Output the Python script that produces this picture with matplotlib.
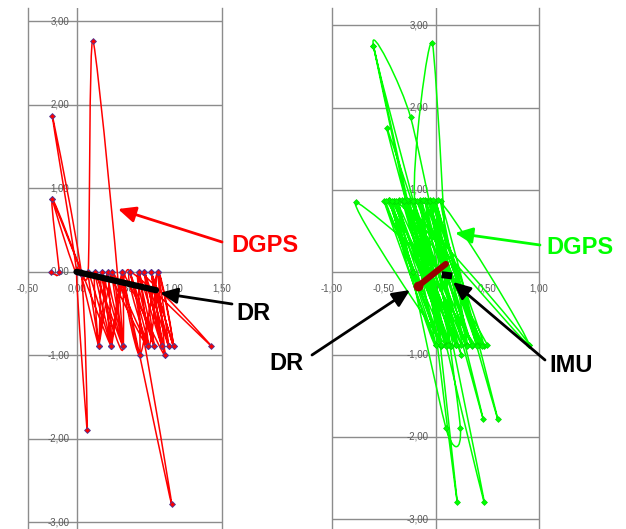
import matplotlib
matplotlib.use('Agg')
import matplotlib.pyplot as plt
from matplotlib.patches import FancyArrowPatch, PathPatch
from matplotlib.path import Path

# DGPS track, left run (red)
red_x = [-0.26, -0.18, -0.25, 0.05, -0.25, 0.00, -0.25, 0.05, 0.11, 0.00,
         0.12, 0.17, 0.48, 0.19, 0.23, 0.26, 0.36, 0.32, 0.23, 0.37,
         0.48, 0.47, 0.36, 0.55, 0.98, 0.47, 0.65, 0.64, 0.74, 0.55,
         1.39, 0.64, 0.80, 0.70, 0.88, 0.77, 0.91, 0.84, 0.95, 0.77,
         1.00, 0.84, 0.74, 0.32, 0.48, 0.19, 0.36, 0.12, 0.23, 0.05,
         0.36, 0.26, 0.48, 0.37, 0.74, 0.55, 0.80, 0.64, 0.88, 0.70,
         0.95, 0.77, 1.00, 0.84, 0.65, 0.47, 0.91, 0.70]
red_y = [0.00, 0.00, 0.87, 0.00, 0.87, 0.00, 1.87, -0.02, -1.89, 0.00,
         0.00, 2.77, -0.89, 0.00, -0.89, 0.00, -0.89, 0.00, -0.89, 0.00,
         -0.89, 0.00, -0.89, 0.00, -2.78, 0.00, -1.00, 0.00, -0.89, 0.00,
         -0.89, 0.00, -0.89, 0.00, -0.89, 0.00, -1.00, 0.00, -0.89, 0.00,
         -0.89, 0.00, -0.89, 0.00, -0.89, 0.00, -0.89, 0.00, -0.89, 0.00,
         -0.89, 0.00, -0.89, 0.00, -0.89, 0.00, -0.89, 0.00, -0.89, 0.00,
         -0.89, 0.00, -0.89, 0.00, -1.00, 0.00, -1.00, 0.00]

# DR track, left run
dr_left_x = [0.00, 0.82]
dr_left_y = [0.00, -0.22]

# DGPS track, right run (green)
green_x = [-0.22, -0.50, 0.00, -0.45, 0.05, -0.40, 0.10, -0.77, 0.90, -0.35,
           0.15, -0.60, -0.24, 0.20, -0.30, 0.25, -0.47, 0.10, -0.25, 0.30,
           -0.20, -0.03, 0.13, -0.15, 0.35, -0.13, 0.21, -0.08, 0.42, -0.10,
           0.47, -0.20, 0.47, -0.05, 0.46, -0.10, 0.40, 0.00, 0.60, 0.05,
           0.30, -0.35, 0.10, 0.24, -0.05, 0.20, 0.02, 0.90, -0.40, 0.00,
           -0.60, -0.27, 0.05, -0.45, 0.15, -0.38, 0.25, -0.28, 0.35, -0.18,
           0.45, -0.12, 0.05, -0.42, 0.20, -0.32, 0.10, -0.22, 0.30, -0.02,
           0.40, -0.48, 0.12, -0.30, 0.50]
green_y = [0.00, 0.87, -0.88, 0.88, -0.90, 0.87, -0.88, 0.85, -0.88, 0.88,
           -0.90, 2.75, 1.88, -0.88, 0.87, -1.00, 1.75, -0.88, 0.88, -0.88,
           0.87, 2.78, -0.88, 0.88, -0.90, 0.87, -2.79, 0.87, -0.88, 0.88,
           -2.79, 0.87, -0.90, 0.88, -1.78, 0.87, -0.88, 0.87, -1.78, 0.87,
           -0.88, 0.87, -1.89, -1.89, 0.87, -0.88, 0.88, -0.88, 0.87, -0.88,
           2.75, 0.87, -0.90, 0.88, -0.90, 0.87, -0.88, 0.88, -0.88, 0.87,
           -0.90, 0.88, -0.88, 0.87, -0.88, 0.88, -0.90, 0.87, -0.90, 0.88,
           -0.90, 0.87, -0.88, 0.87, -0.88]

# DR and IMU tracks, right run
dr_right_x = [-0.17, 0.10]
dr_right_y = [-0.17, 0.10]
imu_x = [0.06, 0.16]
imu_y = [-0.03, -0.045]

left_xticks = [-0.5, 0.0, 0.5, 1.0, 1.5]
right_xticks = [-1.0, -0.5, 0.0, 0.5, 1.0]
yticks = [-3, -2, -1, 0, 1, 2, 3]

W, H = 626, 529
fig = plt.figure(figsize=(W / 100, H / 100), dpi=100)

grid_col = '#8c8c8c'
lab_col = '#595959'
lab_font = 'Liberation Sans'


def smooth(xs, ys, k=9):
    # excel-style smoothed line: bezier through the points
    pts = list(zip(xs, ys))
    verts = [pts[0]]
    codes = [Path.MOVETO]
    for i in range(len(pts) - 1):
        p0 = pts[i - 1] if i > 0 else pts[i]
        p1, p2 = pts[i], pts[i + 1]
        p3 = pts[i + 2] if i + 2 < len(pts) else p2
        c1 = (p1[0] + (p2[0] - p0[0]) / k, p1[1] + (p2[1] - p0[1]) / k)
        c2 = (p2[0] - (p3[0] - p1[0]) / k, p2[1] - (p3[1] - p1[1]) / k)
        verts += [c1, c2, p2]
        codes += [Path.CURVE4] * 3
    return Path(verts, codes)


def frame(ax, xlim, ylim, xticks):
    ax.set_xlim(*xlim)
    ax.set_ylim(*ylim)
    ax.set_xticks([])
    ax.set_yticks([])
    for s in ['top', 'bottom']:
        ax.spines[s].set_visible(False)
    for s in ['left', 'right']:
        ax.spines[s].set_color(grid_col)
        ax.spines[s].set_linewidth(1.0)
    for v in yticks:
        ax.axhline(v, color=grid_col, lw=1.0, zorder=0)
        ax.annotate(f'{v:.2f}'.replace('.', ','), (0, v), xytext=(-5, 0),
                    textcoords='offset points', ha='right', va='center',
                    fontsize=7, color=lab_col, family=lab_font, zorder=1)
    ax.axvline(0, color=grid_col, lw=1.0, zorder=0)
    for v in xticks:
        ax.annotate(f'{v:.2f}'.replace('.', ','), (v, 0), xytext=(0, -12),
                    textcoords='offset points', ha='center', va='center',
                    fontsize=7, color=lab_col, family=lab_font, zorder=1,
                    annotation_clip=False)


# left panel
ax1 = fig.add_axes([28 / W, 0, (222 - 28) / W, (H - 8) / H])
frame(ax1, (-0.5, 1.5), (-3.08, 3.16), left_xticks)
ax1.add_patch(PathPatch(smooth(red_x, red_y), facecolor='none',
                        edgecolor='#ff0000', lw=1.1, zorder=2))
ax1.plot(red_x, red_y, linestyle='none', marker='D', markersize=3,
         markerfacecolor='#ff0000', markeredgecolor='#4b3c9a', markeredgewidth=0.6,
         zorder=3)
ax1.plot(dr_left_x, dr_left_y, color='black', lw=4.5, solid_capstyle='round', zorder=4)

# right panel
ax2 = fig.add_axes([332 / W, 0, (539 - 332) / W, (H - 8) / H])
frame(ax2, (-1.0, 1.0), (-3.12, 3.21), right_xticks)
ax2.add_patch(PathPatch(smooth(green_x, green_y), facecolor='none',
                        edgecolor='#00ff00', lw=1.1, zorder=2))
ax2.plot(green_x, green_y, linestyle='none', marker='D', markersize=3,
         markerfacecolor='#00ff00', markeredgecolor='#00dd00', markeredgewidth=0.5,
         zorder=3)
ax2.plot(dr_right_x, dr_right_y, color='#990000', lw=4.5, solid_capstyle='round', zorder=4)
ax2.plot(dr_right_x[:1], dr_right_y[:1], 'o', color='#990000', markersize=6, zorder=4)
ax2.plot(imu_x, imu_y, color='black', lw=5, solid_capstyle='butt', zorder=5)

# annotation layer in pixel coordinates
ov = fig.add_axes([0, 0, 1, 1], zorder=10)
ov.set_xlim(0, W)
ov.set_ylim(H, 0)
ov.axis('off')
ov.patch.set_alpha(0)

labels = [
    ('DGPS', '#ff0000', (265, 245), (222, 242), (118, 209)),
    ('DR', 'black', (253, 314), (232, 304), (160, 293)),
    ('DGPS', '#00ff00', (580, 248), (540, 245), (455, 233)),
    ('DR', 'black', (286, 364), (312, 355), (410, 290)),
    ('IMU', 'black', (571, 365), (545, 360), (453, 282)),
]
for txt, col, pos, tail, tip in labels:
    ov.text(pos[0], pos[1], txt, color=col, fontsize=17, fontweight='bold',
            family=lab_font, ha='center', va='center')
    ov.add_patch(FancyArrowPatch(tail, tip, arrowstyle='-|>,head_length=0.7,head_width=0.32',
                                 mutation_scale=15, color=col, lw=2.0,
                                 shrinkA=0, shrinkB=0))

fig.savefig('out.png', dpi=100)
